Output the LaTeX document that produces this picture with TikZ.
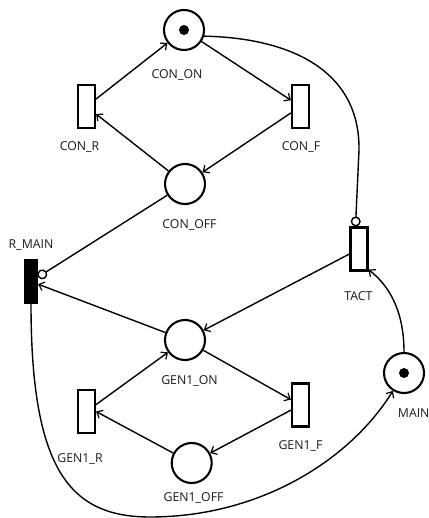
\documentclass[tikz,border=0pt]{standalone}
\usepackage{fontspec}
\setmainfont{Open Sans}
\usetikzlibrary{arrows.meta}
\begin{document}
\begin{tikzpicture}[x=1pt,y=-1pt,
  place/.style={circle,draw,line width=2.1pt,minimum size=40pt,inner sep=0pt},
  trans/.style={rectangle,draw,line width=2.1pt,minimum width=17pt,minimum height=43pt,inner sep=0pt},
  token/.style={circle,fill=black,minimum size=10pt,inner sep=0pt},
  arc/.style={line width=1.4pt,-{Straight Barb[length=5pt,width=9pt,line width=1.2pt]}},
  inhib/.style={line width=1.4pt,-{Circle[open,length=10pt,width=10pt,fill=white,line width=1.4pt]}},
  lbl/.style={font=\fontsize{12.3}{14}\selectfont,text=black!90,inner sep=0pt,anchor=base}]
\useasboundingbox (0,0) rectangle (428,518);
% places
\node[place] (conon) at (184,30) {};
\node[token] (tok1) at (184,30) {};
\node[place] (conoff) at (185,184) {};
\node[place] (gen1on) at (185,340) {};
\node[place] (gen1off) at (191.7,463) {};
\node[place] (main) at (404,373) {};
\node[token] (tok2) at (404,373) {};
% transitions
\node[trans] (conr) at (86.5,106.5) {};
\node[trans] (conf) at (300.5,106.5) {};
\node[trans,fill=black,minimum width=12pt] (rmain) at (31,281.5) {};
\node[trans] (tact) at (359,249) {};
\node[trans] (gen1r) at (86.5,411.5) {};
\node[trans] (gen1f) at (300.5,405) {};
% labels
\node[lbl] (lconon) at (177,79) {CON\_ON};
\node[lbl] (lconr) at (79.5,151) {CON\_R};
\node[lbl] (lconf) at (301,151) {CON\_F};
\node[lbl] (lconoff) at (189.5,228.5) {CON\_OFF};
\node[lbl] (lrmain) at (31,248) {R\_MAIN};
\node[lbl] (ltact) at (358.5,300) {TACT};
\node[lbl,anchor=base west] (lmain) at (397.7,417) {MAIN};
\node[lbl] (lgen1on) at (189.5,384) {GEN1\_ON};
\node[lbl] (lgen1r) at (80,462) {GEN1\_R};
\node[lbl] (lgen1f) at (300.5,449) {GEN1\_F};
\node[lbl] (lgen1off) at (193.5,501) {GEN1\_OFF};
% arcs
\draw[arc] (conr) -- (conon);
\draw[arc] (conon) -- (conf);
\draw[arc] (conf) -- (conoff);
\draw[arc] (conoff) -- (conr);
\draw[inhib] (conoff) -- (rmain);
\draw[arc] (gen1on) -- (rmain);
\draw[arc] (tact) -- (gen1on);
\draw[arc] (gen1r) -- (gen1on);
\draw[arc] (gen1on) -- (gen1f);
\draw[arc] (gen1f) -- (gen1off);
\draw[arc] (gen1off) -- (gen1r.east);
\coordinate (c1) at (359,150);
\draw[inhib] (conon.-17) .. controls (290,38) and (360,70) .. (c1) -- ([xshift=-3.5pt]tact.north);
\draw[arc] (main.north) .. controls (404,315) and (392,288) .. ([yshift=2pt]tact.south east);
\coordinate (c2) at (150,517);
\draw[arc] (rmain.south) .. controls (31,470) and (70,517) .. (c2) .. controls (260,517) and (350,460) .. (main);
\end{tikzpicture}
\end{document}
